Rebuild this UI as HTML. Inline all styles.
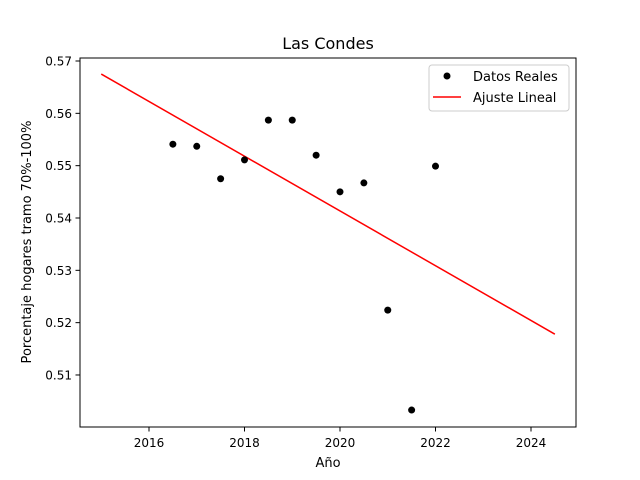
<!DOCTYPE html>
<html><head><meta charset="utf-8"><style>
body{margin:0;background:#fff}
svg{display:block;font-family:"DejaVu Sans","Liberation Sans",sans-serif}
</style></head><body>
<svg id="chart" width="640" height="480" xmlns="http://www.w3.org/2000/svg">
<rect width="640" height="480" fill="#fff"/>
<text x="328" y="49" font-size="16" text-anchor="middle">Las Condes</text>
<g id="xt"></g>
<g id="yt"></g>
<g id="marks"></g>
<rect x="80" y="58" width="496" height="369" fill="none" stroke="#000" stroke-width="1"/>
<text x="328" y="467" font-size="13" text-anchor="middle">Año</text>
<text transform="translate(31,242) rotate(-90)" font-size="13" text-anchor="middle">Porcentaje hogares tramo 70%-100%</text>
<g>
<rect x="429" y="65" width="140" height="46" rx="3" fill="#fff" stroke="#ccc"/>
<circle cx="447" cy="76" r="3.5" fill="#000"/>
<text x="473" y="81" font-size="13">Datos Reales</text>
<line x1="433" y1="97" x2="461" y2="97" stroke="red" stroke-width="1.5"/>
<text x="473" y="102" font-size="13">Ajuste Lineal</text>
</g>
</svg>
<script>
const years=[2016.5,2017,2017.5,2018,2018.5,2019,2019.5,2020,2020.5,2021,2021.5,2022];
const values=[0.5541,0.5537,0.5475,0.5511,0.5587,0.5587,0.5520,0.5450,0.5467,0.5224,0.5033,0.5499];
const fitX=[2015,2024.5];
const fitY=[0.5675,0.5178];
const xTicks=[2016,2018,2020,2022,2024];
const yTicks=[0.51,0.52,0.53,0.54,0.55,0.56,0.57];
const NS="http://www.w3.org/2000/svg";
const X=v=>149+(v-2016)*47.75;
const Y=v=>61+(0.57-v)*5233;
function mk(t,a,p){const e=document.createElementNS(NS,t);for(const k in a)e.setAttribute(k,a[k]);p.appendChild(e);return e;}
const xt=document.getElementById('xt'),yt=document.getElementById('yt'),m=document.getElementById('marks');
xTicks.forEach(t=>{
 const l=mk('line',{x1:X(t),x2:X(t),y1:427,y2:431.5,stroke:'#000'},xt);
 
 
 const s=mk('text',{x:X(t),y:447,'font-size':12,'text-anchor':'middle'},xt);s.textContent=t;
 
 
});
yTicks.forEach(t=>{
 const l=mk('line',{x1:75.5,x2:80,y1:Y(t),y2:Y(t),stroke:'#000'},yt);
 
 
 const s=mk('text',{x:72,y:Y(t)+4.5,'font-size':12,'text-anchor':'end'},yt);s.textContent=t.toFixed(2);
 
 
});
const fl=mk('line',{x1:X(fitX[0]),y1:Y(fitY[0]),x2:X(fitX[1]),y2:Y(fitY[1]),stroke:'red','stroke-width':1.5},m);


years.forEach((yr,i)=>{
 const c=mk('circle',{cx:X(yr),cy:Y(values[i]),r:3.5,fill:'#000'},m);
 
 
});
</script>
</body></html>
